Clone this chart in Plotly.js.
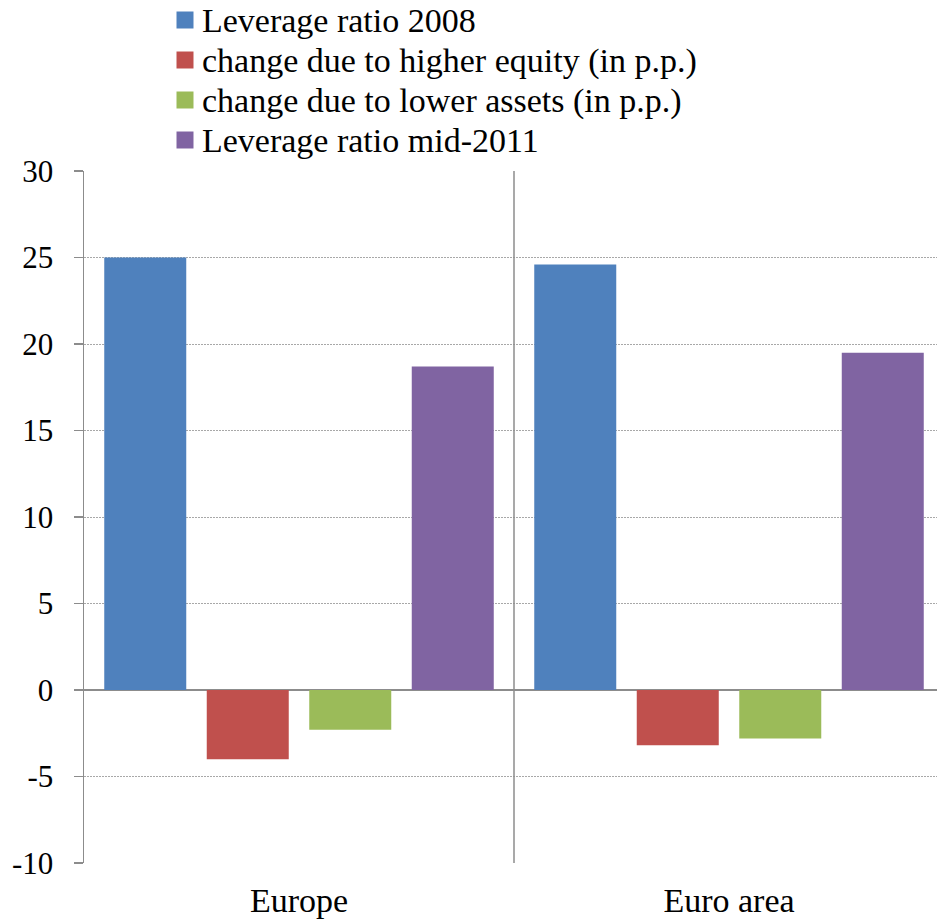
<!DOCTYPE html>
<html>
<head>
<meta charset="utf-8">
<script src="https://cdn.plot.ly/plotly-3.0.1.min.js"></script>
<style>html,body{margin:0;padding:0;background:#fff;}#chart{width:937px;height:920px;}</style>
</head>
<body>
<div id="chart"></div>
<script>
const categories = ["Europe", "Euro area"];
const seriesNames = ["Leverage ratio 2008", "change due to higher equity (in p.p.)", "change due to lower assets (in p.p.)", "Leverage ratio mid-2011"];
const leverage2008 = [25.0, 24.6];
const higherEquity = [-4.0, -3.2];
const lowerAssets = [-2.3, -2.8];
const leverageMid2011 = [18.7, 19.5];
const yTickVals = [-10, -5, 0, 5, 10, 15, 20, 25, 30];
const yTickText = ["-10", "-5", "0", "5", "10", "15", "20", "25", "30"];

const colors = ["#4F81BD", "#C0504D", "#9BBB59", "#8064A2"];
const values = [leverage2008, higherEquity, lowerAssets, leverageMid2011];

const FAMILY = "'Liberation Serif', 'Times New Roman', serif";
const tickFontY = {family: FAMILY, size: 31, color: "#000"};
const tickFontX = {family: FAMILY, size: 34, color: "#000"};
const legendFont = {family: FAMILY, size: 34, color: "#000"};

const W = 937, H = 920;
const M = {l: 84, r: 0, t: 171, b: 57};
const plotW = W - M.l - M.r, plotH = H - M.t - M.b;
const px2x = p => (p - M.l) / plotW;
const px2y = p => (H - M.b - p) / plotH;

const traces = values.map((v, i) => ({
  type: "bar",
  name: seriesNames[i],
  x: categories,
  y: v,
  marker: {color: colors[i]},
  hoverinfo: "x+y+name"
}));

// Custom legend (swatches + text) placed above the plot
const legendRowY = [20, 60, 100, 140];
const shapes = [{
  type: "line",
  xref: "x", yref: "y",
  x0: 0.5, x1: 0.5, y0: -10, y1: 30,
  line: {color: "#8c8c8c", width: 1.5}
}];
const annotations = [];
seriesNames.forEach((name, i) => {
  shapes.push({
    type: "rect",
    xref: "paper", yref: "paper",
    xsizemode: "pixel", ysizemode: "pixel",
    xanchor: px2x(185), yanchor: px2y(legendRowY[i]),
    x0: -8.5, x1: 8.5, y0: -8.5, y1: 8.5,
    fillcolor: colors[i],
    line: {width: 0}
  });
  annotations.push({
    xref: "paper", yref: "paper",
    x: px2x(200), y: px2y(legendRowY[i] + 1),
    xanchor: "left", yanchor: "middle",
    text: name,
    showarrow: false,
    font: legendFont
  });
});

const layout = {
  width: W,
  height: H,
  margin: M,
  paper_bgcolor: "#fff",
  plot_bgcolor: "#fff",
  font: {family: FAMILY, color: "#000"},
  barmode: "group",
  bargap: 0.0465,
  bargroupgap: 0.2,
  showlegend: false,
  xaxis: {
    type: "category",
    range: [-0.5, 1.4837],
    showgrid: false,
    zeroline: false,
    showline: false,
    ticks: "",
    tickfont: tickFontX,
    ticklabelstandoff: 14,
    fixedrange: true
  },
  yaxis: {
    range: [-10, 30],
    tickvals: yTickVals,
    ticktext: yTickText,
    showgrid: true,
    gridcolor: "#a8a8a8",
    griddash: "2px,1px",
    gridwidth: 1,
    zeroline: true,
    zerolinecolor: "#8c8c8c",
    zerolinewidth: 1.5,
    showline: true,
    linecolor: "#8c8c8c",
    linewidth: 1.5,
    ticks: "outside",
    ticklen: 9,
    tickcolor: "#8c8c8c",
    tickwidth: 1.5,
    tickfont: tickFontY,
    ticklabelstandoff: 14,
    fixedrange: true
  },
  shapes: shapes,
  annotations: annotations
};

Plotly.newPlot("chart", traces, layout, {displayModeBar: false, staticPlot: true});
</script>
</body>
</html>
